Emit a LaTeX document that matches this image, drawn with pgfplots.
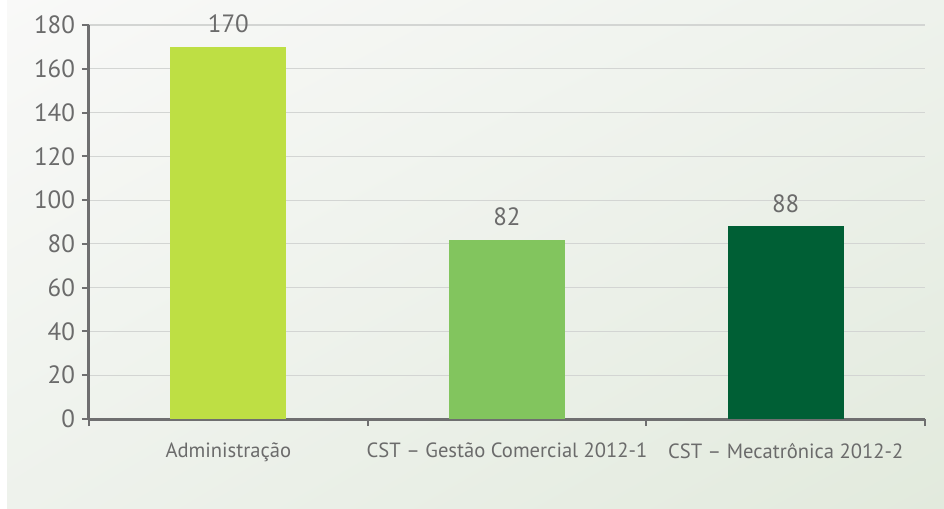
\documentclass[border=0pt]{standalone}
\usepackage{pgfplots}
\pgfplotsset{compat=1.18}
\usetikzlibrary{shadings}
\usepackage{fontspec}
\setmainfont{PT Sans}
\definecolor{txt}{HTML}{6B6B6B}
\definecolor{axl}{HTML}{6F6F70}
\definecolor{grd}{HTML}{D3D5D3}
\definecolor{cA}{HTML}{BEDF44}
\definecolor{cB}{HTML}{82C55E}
\definecolor{cC}{HTML}{005F35}
\definecolor{bgA}{HTML}{F9F9F8}
\definecolor{bgM}{HTML}{EEF2EC}
\definecolor{bgB}{HTML}{E2EADD}
\begin{document}
\begin{tikzpicture}
\path[use as bounding box] (-44.5pt,-45pt) rectangle (427.5pt,209.5pt);
\shade[upper left=bgA, upper right=bgM, lower left=bgM, lower right=bgB] (-44.5pt,-45pt) rectangle (427.5pt,209.5pt);
\fill[white] (-44.5pt,-45pt) rectangle (-41pt,209.5pt);
\begin{axis}[
  scale only axis, width=418pt, height=197pt,
  xmin=0.5, xmax=3.5, ymin=0, ymax=180,
  ytick={0,20,...,180},
  xtick={0.5,1.5,2.5,3.5},
  x tick label as interval,
  xticklabels={Administração, CST – Gestão Comercial 2012-1, CST – Mecatrônica 2012-2},
  axis x line*=bottom, axis y line*=left,
  axis line style={axl, line width=1.5pt, -},
  tick style={axl, line width=1pt},
  tick align=outside,
  major tick length=3.5pt,
  ymajorgrids, grid style={grd, line width=0.6pt},
  /pgf/number format/assume math mode=true,
  yticklabel style={font=\fontsize{12.5}{13}\selectfont, text=txt},
  xticklabel style={font=\fontsize{10.3}{11}\selectfont, text=txt, yshift=-5pt},
  ybar, bar width=58pt, bar shift=0pt,
  nodes near coords,
  every node near coord/.append style={font=\fontsize{12.5}{13}\selectfont, text=txt, yshift=3.5pt},
  clip=false,
]
\addplot[fill=cA, draw=none] coordinates {(1,170)};
\addplot[fill=cB, draw=none] coordinates {(2,82)};
\addplot[fill=cC, draw=none] coordinates {(3,88)};
\end{axis}
\end{tikzpicture}
\end{document}
